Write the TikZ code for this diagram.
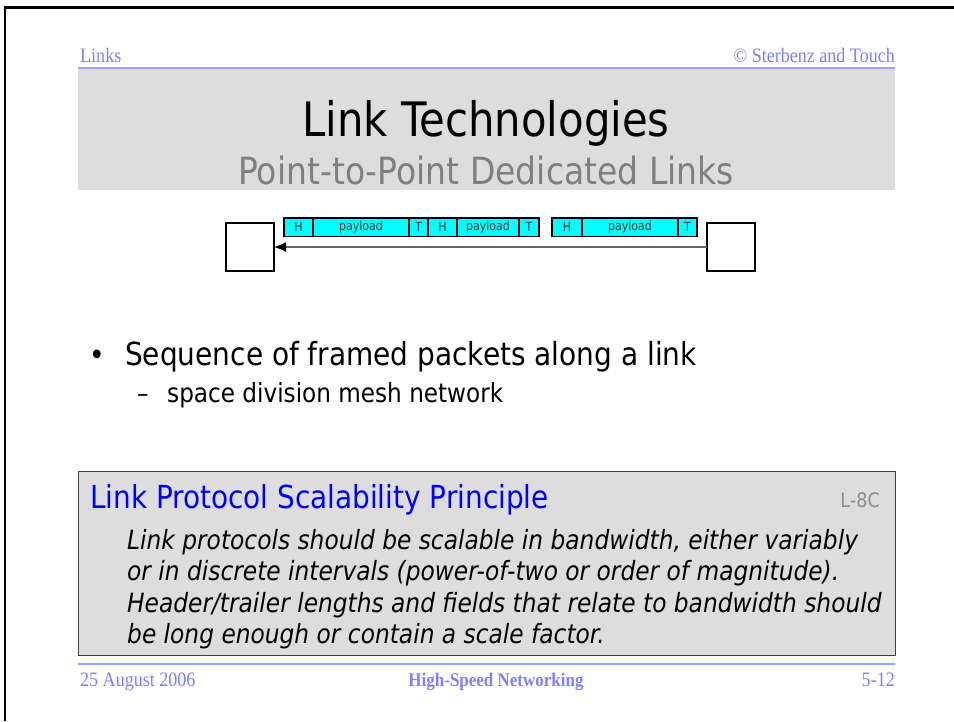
\documentclass[tikz,border=0pt]{standalone}
\usepackage{fontspec}
\setmainfont[FakeStretch=0.88]{DejaVu Sans}
\newfontfamily\slideserif[FakeStretch=0.88]{Liberation Serif}
\usetikzlibrary{arrows.meta}
\definecolor{footcol}{HTML}{7F7FFF}
\definecolor{rulecol}{HTML}{A0A0FF}
\definecolor{panelgray}{HTML}{DDDDDD}
\definecolor{framecyan}{HTML}{00FFFF}
\tikzset{
  host/.style={draw=black, line width=1.5pt, minimum size=48pt, inner sep=0pt, outer sep=0pt},
  cell/.style={draw=black, line width=1.5pt, fill=framecyan, minimum height=18.5pt, inner sep=0pt,
    outer sep=0pt, anchor=north west, text=black!80, font=\fontsize{12.5}{12.5}\selectfont},
  wire/.style={draw=black!60, line width=1.2pt, -{Latex[length=12pt,width=10pt,color=black]}},
  slidetxt/.style={inner sep=0pt, anchor=base west},
  footnotetxt/.style={slidetxt, text=footcol, font=\slideserif\fontsize{20.5}{24}\selectfont},
}
\newcommand{\packet}[5]{ \node[cell, minimum width=#3pt] (#1h) at (#2,218) {H};
  \node[cell, minimum width=#4pt] (#1p) at (#1h.north east) {payload};
  \node[cell, minimum width=#5pt] (#1t) at (#1p.north east) {T};}

\begin{document}
\begin{tikzpicture}[x=1pt, y=-1pt]
    \useasboundingbox (0,0) rectangle (954,721);
    % page frame
    \draw[line width=2.5pt] (5,721) -- (5,7.5) -- (954,7.5);
    % header
    \node[footnotetxt] (sect) at (80,62) {Links};
    \node[footnotetxt, anchor=base east] (copy) at (895,62) {© Sterbenz and Touch};
    \draw[rulecol, line width=2pt] (78,68) -- (895,68);
    \fill[panelgray] (78,69) rectangle (895,190);
    \node[slidetxt, anchor=base, font=\fontsize{47.5}{50}\selectfont] (title) at (486,136.7) {Link Technologies};
    \node[slidetxt, anchor=base, text=black!50, font=\fontsize{37.5}{40}\selectfont] (subtitle) at (486,184) {Point-to-Point Dedicated Links};
    % link
    \node[host] (rx) at (250,247) {};
    \node[host] (tx) at (731,247) {};
    \draw[wire] (tx) -- (rx);
    % packets
    \packet{a}{284}{29}{96}{19}
    \packet{b}{428}{29}{62}{20}
    \packet{c}{552}{30}{96}{19}
    % bullets
    \node[slidetxt, anchor=base, font=\fontsize{30}{32}\selectfont] (dot) at (97,365) {•};
    \node[slidetxt, font=\fontsize{31.8}{36}\selectfont] (item) at (125,365) {Sequence of framed packets along a link};
    \node[slidetxt, font=\fontsize{26}{30}\selectfont] (dash) at (137,402) {–};
    \node[slidetxt, font=\fontsize{26.3}{30}\selectfont] (subitem) at (167,402) {space division mesh network};
    % principle
    \draw[draw=black!75, fill=panelgray, line width=1pt] (78,471) rectangle (895,655);
    \node[slidetxt, text=blue, font=\fontsize{31.7}{36}\selectfont] (ptitle) at (90,508) {Link Protocol Scalability Principle};
    \node[slidetxt, anchor=base east, text=black!45, font=\fontsize{20}{24}\selectfont] (pnum) at (880,507) {L-8C};
    \node[slidetxt, font=\itshape\fontsize{26.5}{30}\selectfont] (rule1) at (127,549.5) {Link protocols should be scalable in bandwidth, either variably};
    \node[slidetxt, font=\itshape\fontsize{26.5}{30}\selectfont] (rule2) at (127,580.8) {or in discrete intervals (power-of-two or order of magnitude).};
    \node[slidetxt, font=\itshape\fontsize{26.5}{30}\selectfont] (rule3) at (127,612.1) {Header/trailer lengths and fields that relate to bandwidth should};
    \node[slidetxt, font=\itshape\fontsize{26.5}{30}\selectfont] (rule4) at (127,643.4) {be long enough or contain a scale factor.};
    % footer
    \draw[rulecol, line width=2pt] (78,664) -- (895,664);
    \node[footnotetxt] (date) at (80,686) {25 August 2006};
    \node[footnotetxt, anchor=base, font=\slideserif\bfseries\fontsize{19.3}{24}\selectfont] (course) at (496,686) {High-Speed Networking};
    \node[footnotetxt, anchor=base east] (page) at (895,686) {5-12};
\end{tikzpicture}
\end{document}
